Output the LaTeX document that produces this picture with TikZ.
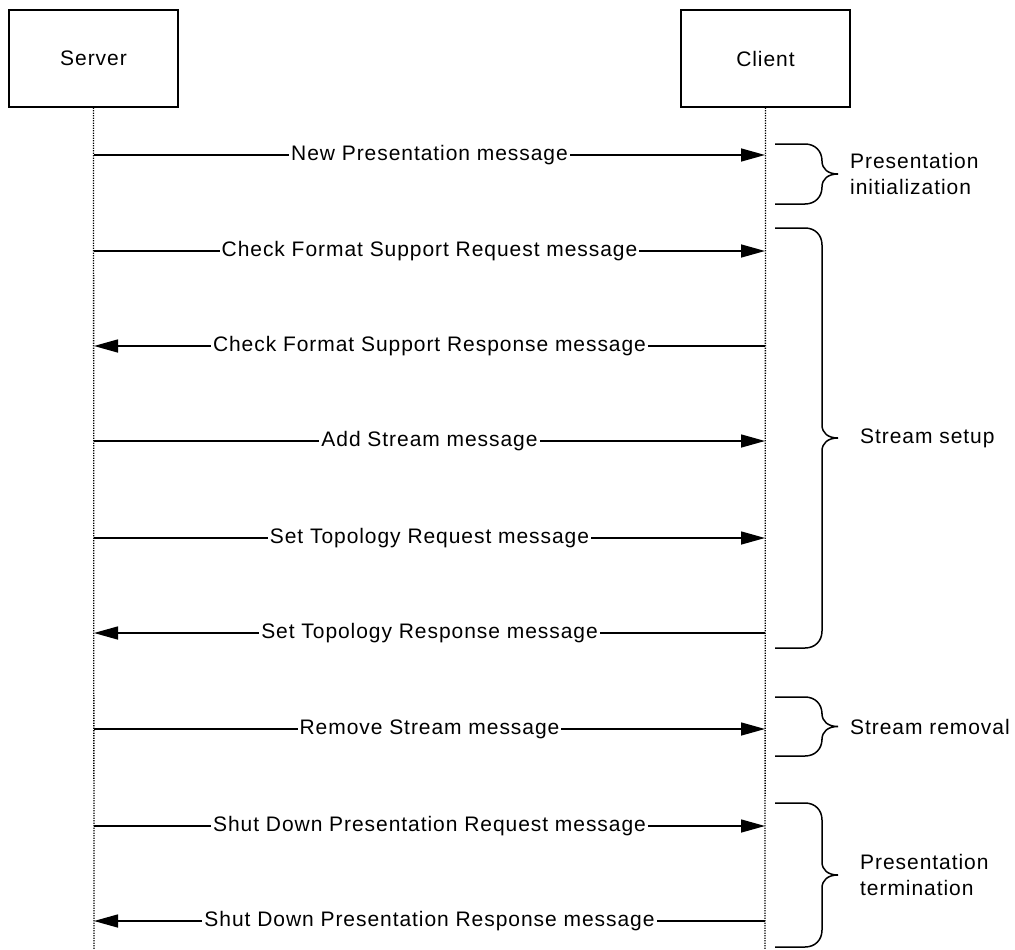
\documentclass[tikz,border=0pt]{standalone}
\usepackage{fontspec}
\setmainfont{Liberation Sans}[LetterSpace=4.5]
\usetikzlibrary{arrows.meta}
\newcommand\vbrace[3]{% #1 tip name, #2 ytop, #3 ybot
  \pgfmathsetmacro\ymid{(#2+#3)/2}
  \draw[brc] (775,#2) -- (805,#2) .. controls (815,#2) and (822,#2+7) .. (822,#2+17)
     -- (822,\ymid-13) .. controls (822,\ymid-5) and (828,\ymid) .. (838,\ymid)
     .. controls (828,\ymid) and (822,\ymid+5) .. (822,\ymid+13)
     -- (822,#3-17) .. controls (822,#3-7) and (815,#3) .. (805,#3) -- (775,#3);
  \coordinate (#1) at (838,\ymid);
}
\begin{document}
\begin{tikzpicture}[x=1pt,y=-1pt,
  font=\fontsize{21}{26}\selectfont,
  actor/.style={draw, line width=1.4pt, minimum width=169pt, minimum height=97pt, inner sep=0pt},
  life/.style={line width=1.3pt, dash pattern=on 1.2pt off 1.3pt},
  msg/.style={line width=1.5pt, -{Triangle[length=24pt,width=13pt]}},
  lbl/.style={fill=white, inner xsep=2pt, inner ysep=1pt},
  brc/.style={line width=1.5pt},
  grp/.style={anchor=west, align=left, inner sep=0pt}]
\useasboundingbox (0,0) rectangle (1015,950);
\node[actor] (server) at (93.5,58.5) {Server};
\node[actor] (client) at (765.5,58.5) {Client};
\coordinate (sbot) at (94,950);
\coordinate (cbot) at (765,950);
\draw[life] (server.south) -- (sbot);
\draw[life] (client.south) -- (cbot);
% message endpoints
\foreach \i/\y in {1/155,2/251,3/346,4/441,5/538,6/633,7/729,8/826,9/921}{
  \coordinate (s\i) at (94,\y);
  \coordinate (c\i) at (765,\y);
}
\draw[msg] (s1) -- node[lbl] (m1) {New Presentation message} (c1);
\draw[msg] (s2) -- node[lbl] (m2) {Check Format Support Request message} (c2);
\draw[msg] (c3) -- node[lbl] (m3) {Check Format Support Response message} (s3);
\draw[msg] (s4) -- node[lbl] (m4) {Add Stream message} (c4);
\draw[msg] (s5) -- node[lbl] (m5) {Set Topology Request message} (c5);
\draw[msg] (c6) -- node[lbl] (m6) {Set Topology Response message} (s6);
\draw[msg] (s7) -- node[lbl] (m7) {Remove Stream message} (c7);
\draw[msg] (s8) -- node[lbl] (m8) {Shut Down Presentation Request message} (c8);
\draw[msg] (c9) -- node[lbl] (m9) {Shut Down Presentation Response message} (s9);
% braces
\vbrace{b1}{144}{204}
\vbrace{b2}{228}{648}
\vbrace{b3}{697}{756}
\vbrace{b4}{803}{947}
\node[grp] (g1) at ([xshift=12pt]b1) {Presentation\\initialization};
\node[grp] (g2) at ([xshift=22pt]b2) {Stream setup};
\node[grp] (g3) at ([xshift=12pt]b3) {Stream removal};
\node[grp] (g4) at ([xshift=22pt]b4) {Presentation\\termination};
\end{tikzpicture}
\end{document}
